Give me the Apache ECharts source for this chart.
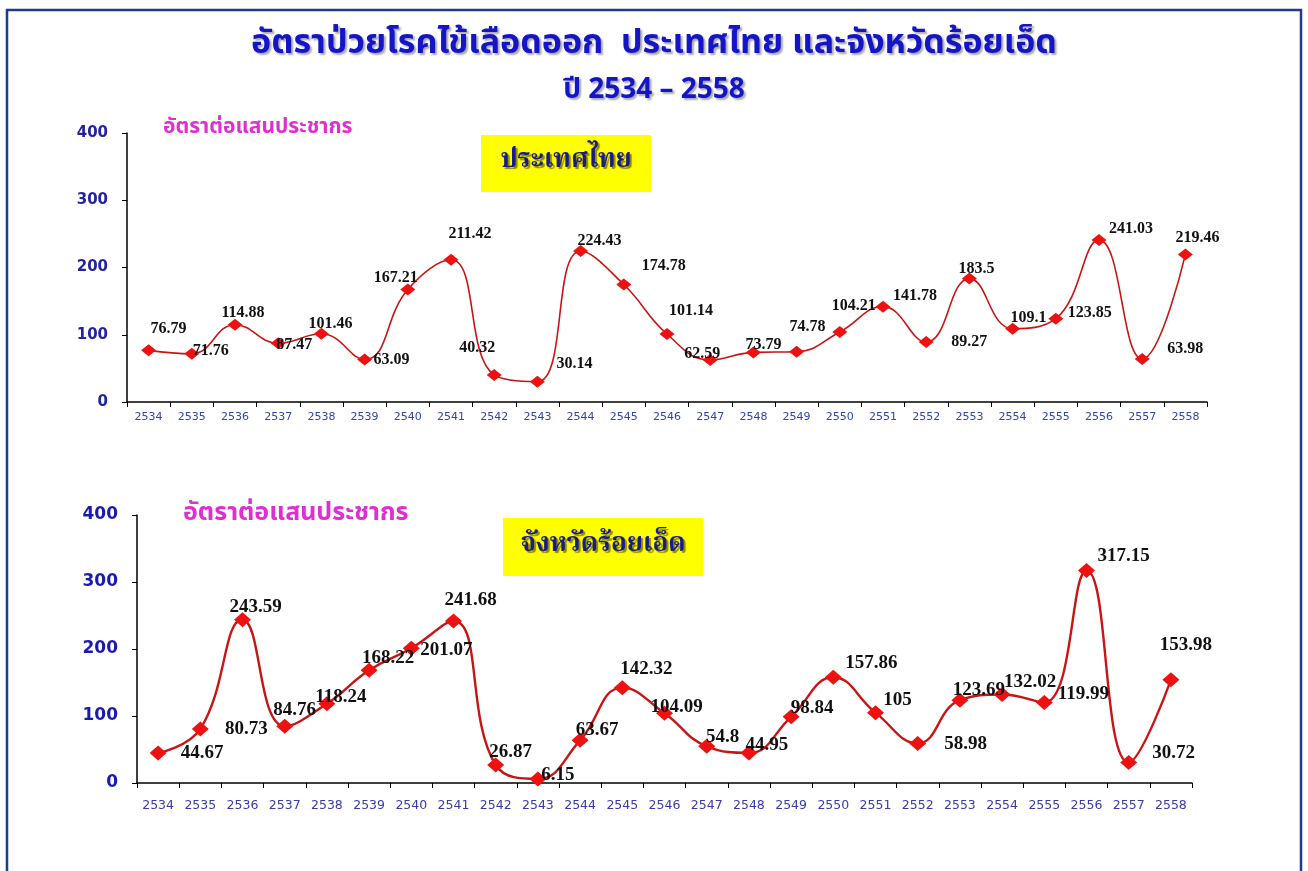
<!DOCTYPE html>
<html>
<head>
<meta charset="utf-8">
<script src="https://cdn.jsdelivr.net/npm/echarts@6/dist/echarts.min.js"></script>
<style>
html,body{margin:0;padding:0;background:#fff;}
#c{width:1308px;height:871px;}
</style>
</head>
<body>
<div id="c"></div>
<script>
// ---- data ----
const years = ['2534','2535','2536','2537','2538','2539','2540','2541','2542','2543','2544','2545','2546','2547','2548','2549','2550','2551','2552','2553','2554','2555','2556','2557','2558'];
const thailandRate = [76.79,71.76,114.88,87.47,101.46,63.09,167.21,211.42,40.32,30.14,224.43,174.78,101.14,62.59,73.79,74.78,104.21,141.78,89.27,183.5,109.1,123.85,241.03,63.98,219.46];
const roiEtRate = [44.67,80.73,243.59,84.76,118.24,168.22,201.07,241.68,26.87,6.15,63.67,142.32,104.09,54.8,44.95,98.84,157.86,105,58.98,123.69,132.02,119.99,317.15,30.72,153.98];
const yTicks = [0,100,200,300,400];
const titleText = 'อัตราป่วยโรคไข้เลือดออก  ประเทศไทย และจังหวัดร้อยเอ็ด';
const subTitleText = 'ปี 2534 – 2558';
const unitText = 'อัตราต่อแสนประชากร';
const boxTop = 'ประเทศไทย';
const boxBottom = 'จังหวัดร้อยเอ็ด';

// ---- label placement (layout only) ----
const offTH = [[20,-21],[19,-3],[8,-12],[16,2],[9,-10],[27,0],[-12,-12],[19,-26],[-17,-27],[37,-18],[19,-10],[40,-19],[24,-23],[-8,-6],[10,-8],[11,-25],[14,-26],[32,-11],[43,0],[7,-10],[16,-11],[34,-6],[32,-11],[43,-10],[12,-17]];
const offRE = [[44,0],[46,0],[13,-13],[10,-16],[14,-7],[19,-12],[35,2],[17,-21],[15,-13],[20,-4],[17,-10],[24,-19],[12,-6],[16,-9],[18,-8],[21,-9],[38,-14],[22,-13],[48,1],[19,-10],[28,-12],[39,-9],[37,-14],[45,-9],[15,-35]];

const thaiFont = '"Noto Sans Thai","Noto Sans Thai UI","Loma","Garuda","Tlwg Typo","Noto Sans",sans-serif';
const thaiSerif = '"Noto Serif Thai","Norasi","Kinnari","Liberation Serif",serif';
const axisFont = '"DejaVu Sans", Arial, sans-serif';

function items(vals, offs){
  return vals.map((v,i)=>({value:v, label:{offset:offs[i]}}));
}

const chart = echarts.init(document.getElementById('c'));
const option = {
  backgroundColor:'#ffffff',
  animation:false,
  title:[
    {text:titleText, left:'center', top:24, textStyle:{fontFamily:thaiFont, fontSize:34, fontWeight:'bold', color:'#1414C8', textShadowColor:'rgba(60,60,60,0.45)', textShadowOffsetX:2, textShadowOffsetY:2, textShadowBlur:2}},
    {text:subTitleText, left:'center', top:73, textStyle:{fontFamily:thaiFont, fontSize:28, fontWeight:'bold', color:'#1414C8', textShadowColor:'rgba(60,60,60,0.45)', textShadowOffsetX:2, textShadowOffsetY:2, textShadowBlur:2}},
    {text:unitText, left:158, top:113, textStyle:{fontFamily:thaiFont, fontSize:21, fontWeight:'bold', color:'#E02ED2'}},
    {text:unitText, left:178, top:497, textStyle:{fontFamily:thaiFont, fontSize:25, fontWeight:'bold', color:'#E02ED2'}}
  ],
  graphic:[
    {type:'rect', shape:{x:7,y:10,width:1294,height:880}, style:{fill:'none', stroke:'#1F3A8F', lineWidth:2.5}, z:0},
    {type:'rect', shape:{x:481,y:135,width:170,height:57}, style:{fill:'#FFFF00'}, z:1},
    {type:'text', x:566, y:163, style:{text:boxTop, fontFamily:thaiSerif, fontSize:26, fontWeight:'bold', fill:'#1A1A8C', align:'center', verticalAlign:'middle', textShadowColor:'rgba(0,0,0,0.45)', textShadowOffsetX:2, textShadowOffsetY:2, textShadowBlur:1}, z:2},
    {type:'rect', shape:{x:503,y:518,width:200,height:58}, style:{fill:'#FFFF00'}, z:1},
    {type:'text', x:603, y:547, style:{text:boxBottom, fontFamily:thaiSerif, fontSize:26, fontWeight:'bold', fill:'#1A1A8C', align:'center', verticalAlign:'middle', textShadowColor:'rgba(0,0,0,0.45)', textShadowOffsetX:2, textShadowOffsetY:2, textShadowBlur:1}, z:2}
  ],
  grid:[
    {left:127, top:133, width:1080, height:269},
    {left:137, top:515, width:1055, height:268}
  ],
  xAxis:[
    {type:'category', gridIndex:0, data:years, boundaryGap:true,
     axisLine:{lineStyle:{color:'#000', width:1.5}}, axisTick:{show:true, length:5, lineStyle:{color:'#000'}},
     axisLabel:{color:'#3344AA', fontSize:11, fontFamily:axisFont, margin:10, interval:0}},
    {type:'category', gridIndex:1, data:years, boundaryGap:true,
     axisLine:{lineStyle:{color:'#000', width:1.5}}, axisTick:{show:true, length:5, lineStyle:{color:'#000'}},
     axisLabel:{color:'#3A3AAA', fontSize:12.5, fontFamily:axisFont, margin:16, interval:0}}
  ],
  yAxis:[
    {type:'value', gridIndex:0, min:yTicks[0], max:yTicks[yTicks.length-1], interval:100,
     axisLine:{show:true, lineStyle:{color:'#000', width:1.5}}, axisTick:{show:true, length:5, lineStyle:{color:'#000'}},
     splitLine:{show:false},
     axisLabel:{color:'#23239E', fontSize:15, fontWeight:'bold', fontFamily:axisFont, margin:19}},
    {type:'value', gridIndex:1, min:yTicks[0], max:yTicks[yTicks.length-1], interval:100,
     axisLine:{show:true, lineStyle:{color:'#000', width:1.5}}, axisTick:{show:true, length:5, lineStyle:{color:'#000'}},
     splitLine:{show:false},
     axisLabel:{color:'#1A1AB0', fontSize:17, fontWeight:'bold', fontFamily:axisFont, margin:19}}
  ],
  series:[
    {type:'line', xAxisIndex:0, yAxisIndex:0, data:items(thailandRate, offTH), smooth:0.45,
     symbol:'diamond', symbolSize:[15,12], itemStyle:{color:'#EE1111'},
     lineStyle:{color:'#C81414', width:1.6},
     label:{show:true, position:'inside', fontFamily:'"Liberation Serif","Times New Roman",serif', fontWeight:'bold', fontSize:16, color:'#111'}, z:3},
    {type:'line', xAxisIndex:1, yAxisIndex:1, data:items(roiEtRate, offRE), smooth:0.45,
     symbol:'diamond', symbolSize:[17,15], itemStyle:{color:'#EE1111'},
     lineStyle:{color:'#C81414', width:2.4},
     label:{show:true, position:'inside', fontFamily:'"Liberation Serif","Times New Roman",serif', fontWeight:'bold', fontSize:19, color:'#111'}, z:3}
  ]
};
chart.setOption(option);
</script>
</body>
</html>
